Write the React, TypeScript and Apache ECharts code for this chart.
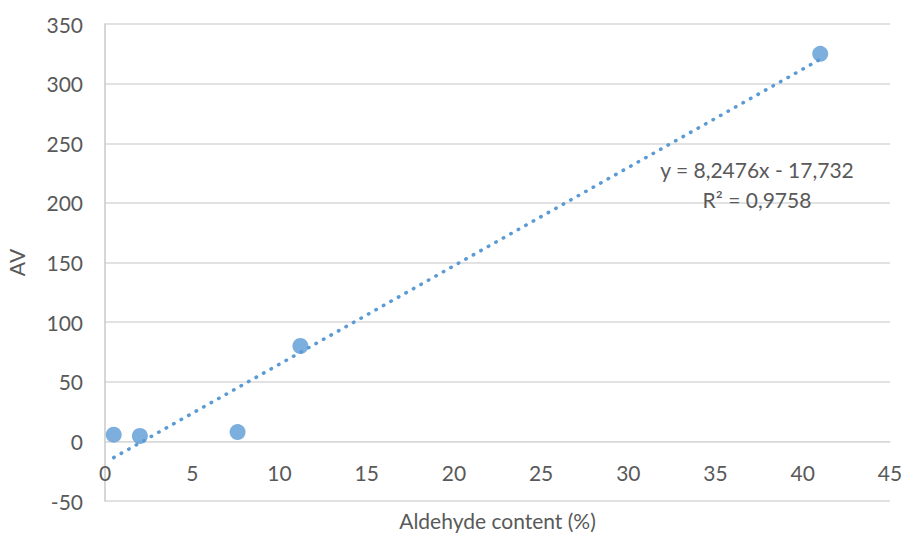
import React, { useEffect, useRef } from "react";
import * as echarts from "echarts";

// Aldehyde content (%) vs AV measurements
const aldehydeContent = [0.5, 2.0, 7.6, 11.2, 41.0];
const avValues = [5.6, 4.5, 7.8, 80, 325];

// Linear trendline coefficients
const slope = 8.2476;
const intercept = -17.732;
const rSquared = "0,9758";
const equationText = "y = 8,2476x - 17,732";

const xTitle = "Aldehyde content (%)";
const yTitle = "AV";

const xTicks = { min: 0, max: 45, interval: 5 };
const yTicks = { min: -50, max: 350, interval: 50 };

const COLOR = "#5B9BD5";
const TEXT = "#595959";
const FONT = "Lato";

export default function App() {
  const ref = useRef<HTMLDivElement>(null);

  useEffect(() => {
    if (!ref.current) return;
    const chart = echarts.init(ref.current, undefined, { renderer: "svg" });

    const xStart = Math.min(...aldehydeContent);
    const xEnd = Math.max(...aldehydeContent);
    const trend = [
      [xStart, slope * xStart + intercept],
      [xEnd, slope * xEnd + intercept],
    ];

    chart.setOption({
      animation: false,
      backgroundColor: "#ffffff",
      textStyle: { fontFamily: FONT },
      grid: {
        left: 105,
        right: 13,
        top: 24,
        bottom: 32,
        containLabel: false,
        outerBoundsMode: "none",
      },
      xAxis: {
        type: "value",
        min: xTicks.min,
        max: xTicks.max,
        interval: xTicks.interval,
        axisLine: { onZero: false, lineStyle: { color: "#D9D9D9", width: 1 } },
        axisTick: { show: false },
        axisLabel: { color: TEXT, fontSize: 21, margin: 21, fontFamily: FONT },
        splitLine: { show: false },
      },
      yAxis: {
        type: "value",
        min: yTicks.min,
        max: yTicks.max,
        interval: yTicks.interval,
        name: yTitle,
        nameLocation: "middle",
        nameGap: 78,
        nameTextStyle: { color: TEXT, fontSize: 21, fontFamily: FONT },
        axisLine: { show: true, onZero: false, lineStyle: { color: "#C8C8C8", width: 1.5 } },
        axisTick: { show: false },
        axisLabel: { color: TEXT, fontSize: 21, margin: 22, fontFamily: FONT },
        splitLine: { show: true, lineStyle: { color: "#D9D9D9", width: 1.5 } },
      },
      series: [
        {
          type: "line",
          data: trend,
          showSymbol: false,
          symbol: "none",
          silent: true,
          lineStyle: {
            color: COLOR,
            width: 3.5,
            type: [0.5, 8.1],
            cap: "round",
          },
          z: 2,
        },
        {
          type: "scatter",
          data: aldehydeContent.map((x, i) => [x, avValues[i]]),
          symbol: "circle",
          symbolSize: 16,
          itemStyle: { color: COLOR },
          z: 3,
        },
      ],
    });

    // Lift the x axis so it crosses the value axis at 0
    const zeroPx = chart.convertToPixel({ yAxisIndex: 0 }, 0) as number;
    const bottomPx = chart.convertToPixel({ yAxisIndex: 0 }, yTicks.min) as number;
    const midX = chart.convertToPixel({ xAxisIndex: 0 }, (xTicks.min + xTicks.max) / 2) as number;

    chart.setOption({
      xAxis: { offset: zeroPx - bottomPx },
      graphic: [
        {
          type: "text",
          x: 757,
          y: 184,
          style: {
            text: equationText + "\nR² = " + rSquared,
            fill: TEXT,
            font: `21px ${FONT}`,
            align: "center",
            verticalAlign: "middle",
            lineHeight: 30,
          },
        },
        {
          type: "text",
          x: midX,
          y: bottomPx + 19,
          style: {
            text: xTitle,
            fill: TEXT,
            font: `21px ${FONT}`,
            align: "center",
            verticalAlign: "middle",
          },
        },
      ],
    });

    return () => chart.dispose();
  }, []);

  return (
    <div
      ref={ref}
      style={{ position: "absolute", left: 0, top: 0, width: 903, height: 533 }}
    />
  );
}
